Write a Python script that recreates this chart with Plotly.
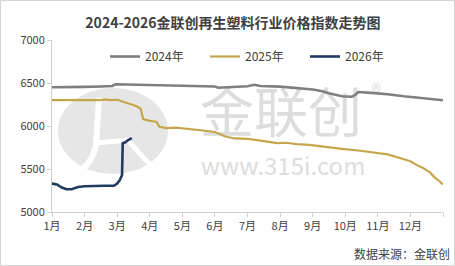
import plotly.graph_objects as go

# ---------------- data (x = month position, 0 = 1月初, 12 = 年末) ----------------
months_2024 = [0, 0.5, 1.0, 1.5, 1.85, 1.95, 2.5, 3.0, 3.5, 4.0, 4.5, 5.0, 5.1, 5.5, 6.0,
               6.2, 6.4, 7.0, 7.5, 8.0, 8.3, 8.5, 8.9, 9.2, 9.3, 9.4, 9.8, 10.3, 10.8,
               11.2, 11.6, 12.0]
values_2024 = [6450, 6450, 6455, 6460, 6465, 6485, 6480, 6475, 6472, 6470, 6468, 6460, 6445,
               6455, 6462, 6480, 6465, 6458, 6445, 6425, 6405, 6380, 6345, 6340, 6360, 6395,
               6385, 6370, 6345, 6330, 6315, 6300]

months_2025 = [0, 0.5, 1.0, 1.5, 1.6, 1.8, 2.0, 2.2, 2.4, 2.6, 2.72, 2.8, 3.0, 3.2, 3.3,
               3.5, 3.8, 4.1, 4.4, 4.7, 5.0, 5.3, 5.6, 6.0, 6.3, 6.6, 6.9, 7.2, 7.5, 7.9,
               8.3, 8.9, 9.4, 9.95, 10.3, 10.7, 11.0, 11.2, 11.4, 11.6, 11.75, 11.9, 12.0]
values_2025 = [6300, 6300, 6300, 6300, 6310, 6300, 6305, 6280, 6260, 6230, 6200, 6080, 6060,
               6050, 5990, 5975, 5980, 5970, 5960, 5945, 5930, 5880, 5855, 5850, 5835, 5820,
               5800, 5805, 5790, 5780, 5760, 5735, 5715, 5690, 5670, 5625, 5590, 5545, 5510,
               5460, 5400, 5355, 5320]

months_2026 = [0, 0.15, 0.3, 0.45, 0.6, 0.8, 1.0, 1.3, 1.6, 1.9, 2.0, 2.08, 2.15, 2.17,
               2.25, 2.35, 2.45]
values_2026 = [5330, 5320, 5285, 5265, 5265, 5290, 5300, 5305, 5305, 5305, 5330, 5370, 5430,
               5800, 5810, 5840, 5860]

tick_positions = list(range(13))
tick_labels = ["1月", "2月", "3月", "4月", "5月", "6月", "7月", "8月", "9月", "10月", "11月", "12月", ""]

series_names = ["2024年", "2025年", "2026年"]
series_colors = ["#7f7f7f", "#c6a64c", "#213a60"]
series_widths = [2.6, 2.2, 2.6]

FONT = "Noto Sans CJK SC"
W, H = 455, 266
L, R, T, B = 52, 12, 40, 54
PW, PH = W - L - R, H - T - B


def px(xp):
    return (xp - L) / PW


def py(yp):
    return (H - B - yp) / PH


fig = go.Figure()

# watermark (drawn first so the data lines sit on top)
fig.add_trace(go.Scatter(
    x=[7.03, 7.09, 9.95], y=[6080, 5505, 6370],
    mode="text", text=["金联创", "www.315i.com", "®"],
    textfont=dict(family=FONT, size=[54, 24, 20], color="#dddddd"),
    hoverinfo="skip", showlegend=False,
))

for xs, ys, name, color, wd in zip([months_2024, months_2025, months_2026],
                                   [values_2024, values_2025, values_2026],
                                   series_names, series_colors, series_widths):
    fig.add_trace(go.Scatter(x=xs, y=ys, mode="lines", name=name,
                             line=dict(color=color, width=wd)))

shapes = [
    # logo ellipse of watermark
    dict(type="circle", xref="paper", yref="paper", layer="below",
         x0=px(58), x1=px(168), y0=py(174), y1=py(88),
         fillcolor="#e6e6e6", line=dict(width=0)),
    dict(type="path", xref="paper", yref="paper", layer="below",
         path=(f"M{px(99)},{py(98)} L{px(96)},{py(145)} "
               f"Q{px(92)},{py(165)} {px(76)},{py(173)}"),
         line=dict(color="white", width=6)),
    dict(type="path", xref="paper", yref="paper", layer="below",
         path=(f"M{px(96)},{py(143)} L{px(128)},{py(140)} "
               f"Q{px(140)},{py(155)} {px(152)},{py(166)}"),
         line=dict(color="white", width=5)),
    # outer frame
    dict(type="rect", xref="paper", yref="paper", layer="below",
         x0=px(0.5), x1=px(454.5), y0=py(265.5), y1=py(0.5),
         line=dict(color="#d4d4d4", width=1)),
]

fig.update_layout(
    width=W, height=H,
    margin=dict(l=L, r=R, t=T, b=B),
    paper_bgcolor="white", plot_bgcolor="white",
    font=dict(family=FONT, size=11, color="#404040"),
    title=dict(text="<b>2024-2026金联创再生塑料行业价格指数走势图</b>",
               x=233 / W, xanchor="center", y=1 - 23 / H, yanchor="middle",
               yref="container",
               font=dict(family=FONT, size=14, color="#404040")),
    legend=dict(orientation="h", x=px(105), xanchor="left",
                y=py(42), yanchor="top", bgcolor="rgba(0,0,0,0)",
                font=dict(family=FONT, size=12, color="#404040"),
                entrywidth=55, itemwidth=30, borderwidth=0),
    xaxis=dict(range=[0, 12], tickvals=tick_positions, ticktext=tick_labels,
               showgrid=False, zeroline=False, showline=True, linecolor="#d0d0d0",
               ticks="outside", ticklen=4, tickcolor="#d0d0d0",
               tickfont=dict(family=FONT, size=11, color="#404040"), fixedrange=True),
    yaxis=dict(range=[5000, 7000], dtick=500, tickformat="d",
               showgrid=False, zeroline=False, showline=True, linecolor="#d0d0d0",
               ticks="outside", ticklen=4, tickcolor="#d0d0d0",
               tickfont=dict(family=FONT, size=11, color="#404040"), fixedrange=True),
    shapes=shapes,
    annotations=[dict(text="数据来源：金联创", xref="paper", yref="paper",
                      x=px(452), y=py(253), xanchor="right", yanchor="middle",
                      showarrow=False,
                      font=dict(family=FONT, size=12, color="#404040"))],
    showlegend=True,
)

fig.write_html("out.html", config={"displayModeBar": False})
